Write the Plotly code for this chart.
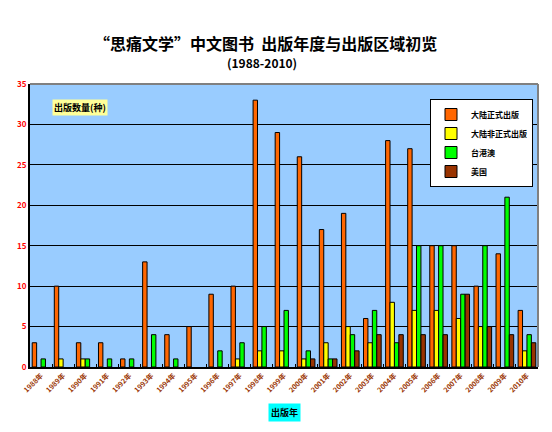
import plotly.graph_objects as go

years = [f"{y}年" for y in range(1988, 2011)]
mainland_official = [3, 10, 3, 3, 1, 13, 4, 5, 9, 10, 33, 29, 26, 17, 19, 6, 28, 27, 15, 15, 10, 14, 7]
mainland_unofficial = [0, 1, 1, 0, 0, 0, 0, 0, 0, 1, 2, 2, 1, 3, 5, 3, 8, 7, 7, 6, 5, 0, 2]
tw_hk_macau = [1, 0, 1, 1, 1, 4, 1, 0, 2, 3, 5, 7, 2, 1, 4, 7, 3, 15, 15, 9, 15, 21, 4]
usa = [0, 0, 0, 0, 0, 0, 0, 0, 0, 0, 0, 0, 1, 1, 2, 4, 4, 4, 4, 9, 5, 4, 3]

series = [
    ("大陆正式出版", mainland_official, "#FF6600"),
    ("大陆非正式出版", mainland_unofficial, "#FFFF00"),
    ("台港澳", tw_hk_macau, "#00FF00"),
    ("美国", usa, "#993300"),
]

FONT = "Noto Sans CJK SC"
fig = go.Figure()
for name, vals, color in series:
    fig.add_trace(go.Bar(
        x=years, y=[v if v else None for v in vals], name=name,
        marker=dict(color=color, line=dict(color="black", width=1)),
    ))

# page has an 8px body margin; compensate so the plot area lands at x 30-538, y 84-367
fig.update_layout(
    width=552, height=432,
    margin=dict(l=22, r=22, t=76, b=73, autoexpand=False),
    paper_bgcolor="white", plot_bgcolor="#99CCFF",
    barmode="group", bargap=0.2, bargroupgap=0,
    font=dict(family=FONT, size=9, color="black"),
    showlegend=True,
    legend=dict(
        x=(533 - 30) / 508, y=(367 - 99) / 283, xanchor="right", yanchor="top",
        bgcolor="white", bordercolor="black", borderwidth=1,
        font=dict(family=FONT, size=8, color="black", weight="bold"),
        itemwidth=30, tracegroupgap=0,
    ),
    xaxis=dict(
        type="category", showline=True, linecolor="black", linewidth=2,
        ticks="inside", ticklen=3, tickcolor="black", tickson="boundaries",
        tickangle=-45, tickfont=dict(family=FONT, size=7, color="#993300", weight="bold"),
        showgrid=False,
    ),
    yaxis=dict(
        range=[0, 35], dtick=5, showline=True, linecolor="black", linewidth=2,
        showgrid=True, gridcolor="black", gridwidth=1,
        ticks="", tickfont=dict(family=FONT, size=8, color="red", weight="bold"),
        zeroline=False,
    ),
    shapes=[
        dict(type="line", xref="paper", yref="paper", x0=0, x1=1, y0=1, y1=1,
             line=dict(color="#808080", width=2)),
        dict(type="line", xref="paper", yref="paper", x0=1, x1=1, y0=0, y1=1,
             line=dict(color="#808080", width=2)),
    ],
    annotations=[
        dict(text="“思痛文学”中文图书  出版年度与出版区域初览", xref="paper", yref="paper",
             x=(265 - 30) / 508, y=1, yshift=41, yanchor="middle", showarrow=False,
             font=dict(family=FONT, size=16, color="black", weight="bold")),
        dict(text="(1988-2010)", xref="paper", yref="paper",
             x=(262 - 30) / 508, y=1, yshift=22, yanchor="middle", showarrow=False,
             font=dict(family=FONT, size=12, color="black", weight="bold")),
        dict(text="出版数量(种)", xref="paper", yref="paper",
             x=(52 - 30) / 508, y=(367 - 99) / 283, xanchor="left", yanchor="top",
             showarrow=False, bgcolor="#FFFF99", borderpad=1,
             font=dict(family=FONT, size=9, color="black", weight="bold")),
        dict(text="出版年", xref="paper", yref="paper",
             x=(284 - 30) / 508, y=0, yshift=-36, yanchor="top", showarrow=False,
             bgcolor="#00FFFF", borderpad=2,
             font=dict(family=FONT, size=9, color="black", weight="bold")),
    ],
)

fig.write_html("out.html")
